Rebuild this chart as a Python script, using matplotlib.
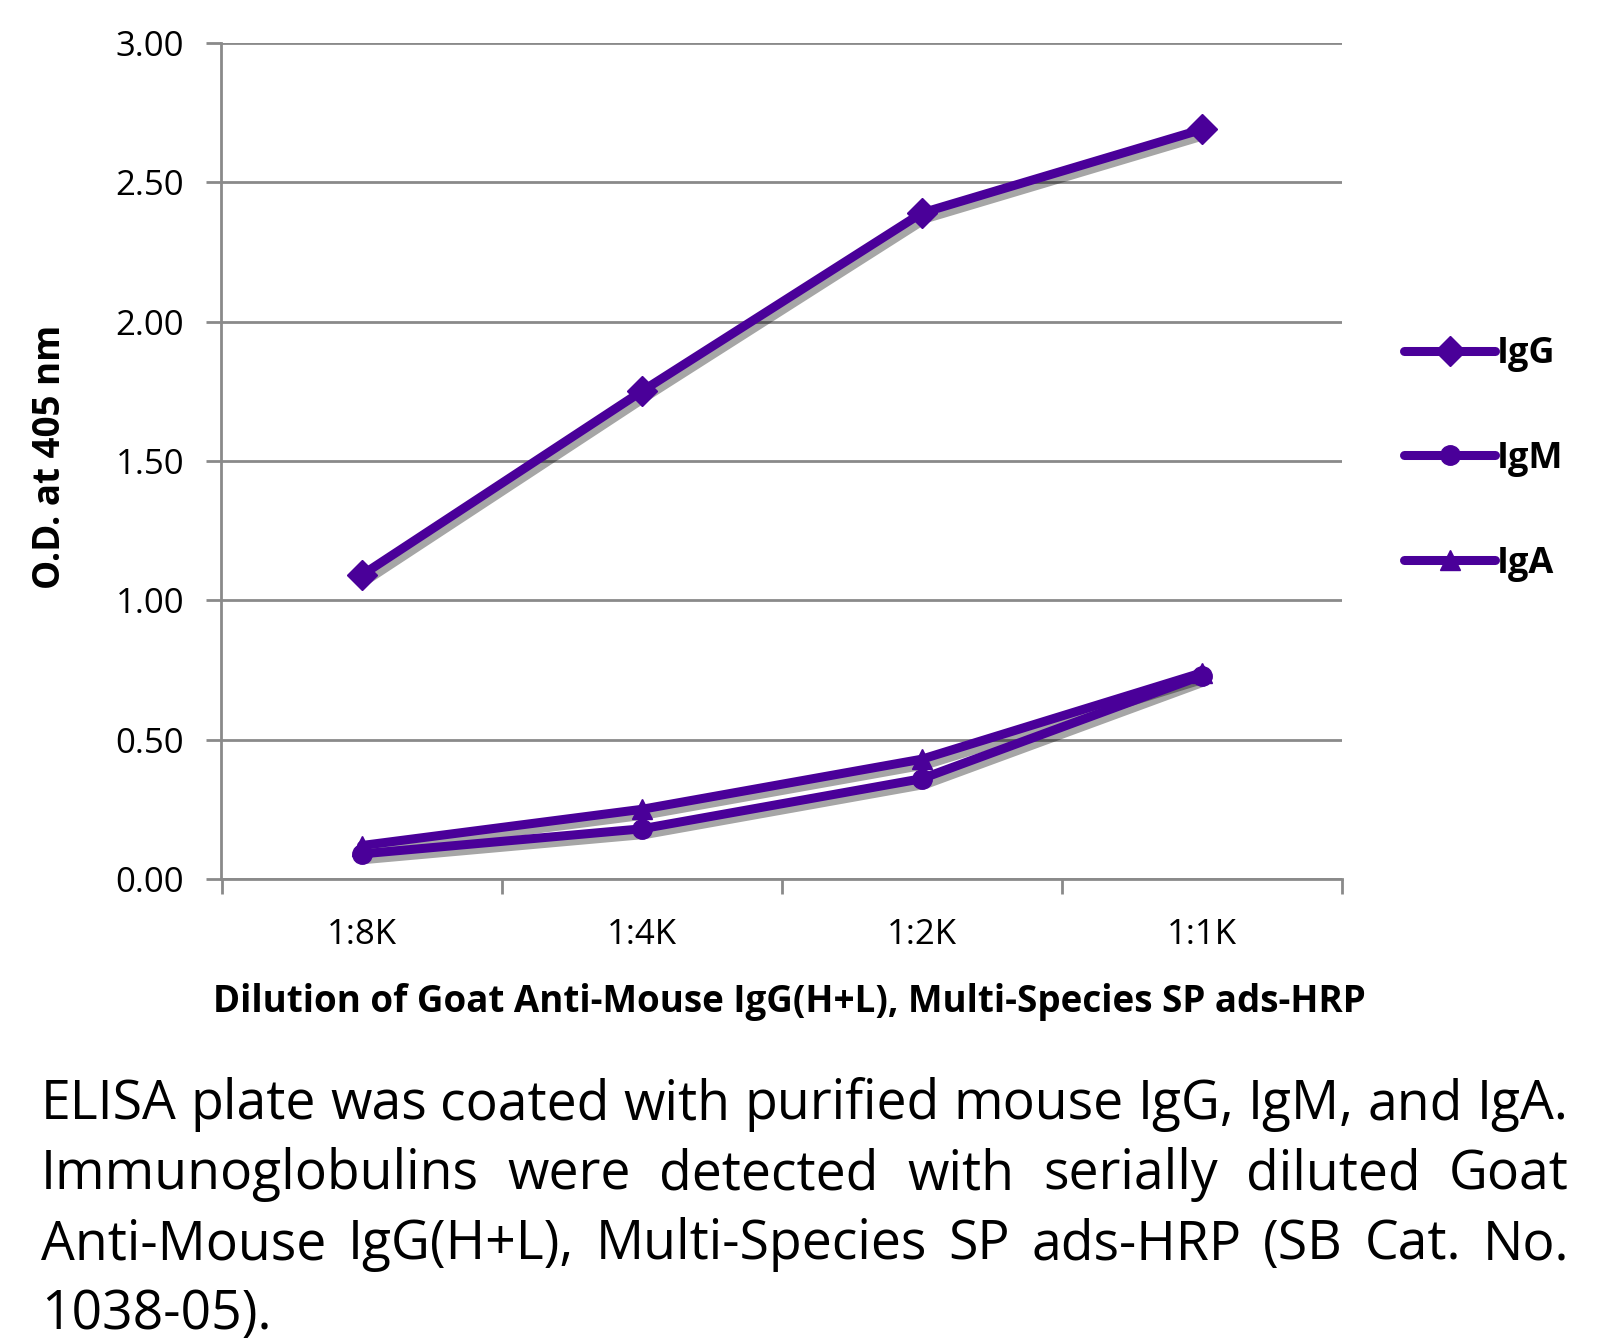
import matplotlib
matplotlib.use('Agg')
import matplotlib.pyplot as plt
import matplotlib.patheffects as pe

# dados
diluicoes = ['1:8K', '1:4K', '1:2K', '1:1K']
igg = [1.09, 1.75, 2.39, 2.69]
igm = [0.09, 0.18, 0.36, 0.73]
iga = [0.12, 0.25, 0.43, 0.74]
series = [('IgG', igg, 'D'), ('IgM', igm, 'o'), ('IgA', iga, '^')]
yticks = [0.0, 0.5, 1.0, 1.5, 2.0, 2.5, 3.0]

caption_lines = [
    'ELISA plate was coated with purified mouse IgG, IgM, and IgA.',
    'Immunoglobulins were detected with serially diluted Goat',
    'Anti-Mouse IgG(H+L), Multi-Species SP ads-HRP (SB Cat. No.',
    '1038-05).',
]

cor = '#4a0099'
cinza = '#8a8a8a'
plt.rcParams['font.family'] = 'Open Sans'

W, H = 1608, 1344
fig = plt.figure(figsize=(W / 100, H / 100), dpi=100)
ax = fig.add_axes([221.5 / W, 1 - 879 / H, (1342 - 221.5) / W, (879 - 43) / H])

x = list(range(len(diluicoes)))
sombra = [pe.SimpleLineShadow(offset=(3, -4), shadow_color='black', alpha=0.35, rho=0.3)]
handles = []
for nome, vals, mk in series:
    ms = 14 if mk == 'o' else 15
    # sombra só da linha
    ax.plot(x, vals, color=cor, lw=6.5, alpha=0, solid_capstyle='round',
            path_effects=sombra, zorder=2)
    ln, = ax.plot(x, vals, color=cor, lw=6.5, marker=mk, ms=ms, mec=cor,
                  solid_capstyle='round', solid_joinstyle='round',
                  zorder=3, label=nome)
    handles.append(ln)

ax.set_xlim(-0.5, len(diluicoes) - 0.5)
ax.set_ylim(0, 3.0)
ax.set_yticks(yticks)
ax.set_yticklabels([f'{v:.2f}' for v in yticks])
ax.set_xticks(x)
ax.set_xticklabels(diluicoes)
ax.set_xticks([i - 0.5 for i in range(len(diluicoes) + 1)], minor=True)
ax.tick_params(axis='x', which='major', length=0, pad=28, labelsize=25)
ax.tick_params(axis='x', which='minor', length=11, width=2, color=cinza)
ax.tick_params(axis='y', length=11, width=2, color=cinza, pad=16, labelsize=25)
ax.grid(axis='y', color=cinza, lw=2)
ax.set_axisbelow(True)
for s in ['top', 'right']:
    ax.spines[s].set_visible(False)
for s in ['left', 'bottom']:
    ax.spines[s].set_color(cinza)
    ax.spines[s].set_linewidth(2)

fig.text(50 / W, 1 - 457 / H, 'O.D. at 405 nm', rotation=90, ha='center', va='center',
         fontsize=26.5, fontweight='bold')
fig.text(789 / W, 1 - 1002 / H, 'Dilution of Goat Anti-Mouse IgG(H+L), Multi-Species SP ads-HRP',
         ha='center', va='center', fontsize=26.5, fontweight='bold')

leg = fig.legend(handles=handles, loc='upper left', bbox_to_anchor=(1390 / W, 1 - 322 / H),
                 frameon=False, prop={'size': 26, 'weight': 'bold'}, handlelength=2.5,
                 handletextpad=0.05, labelspacing=1.9, borderaxespad=0)

# legenda em texto justificado
fig.canvas.draw()
r = fig.canvas.get_renderer()
esq, dir_ = 41, 1569
alvo = dir_ - esq
tam = 38
t = fig.text(0, 0, caption_lines[0], fontsize=tam)
larg = t.get_window_extent(r).width
t.remove()
tam = tam * alvo / larg
base_y = [1119, 1189, 1259, 1329]
for i, linha in enumerate(caption_lines):
    y = 1 - base_y[i] / H
    palavras = linha.split(' ')
    if i == len(caption_lines) - 1:
        fig.text(esq / W, y, linha, fontsize=tam, va='baseline')
        continue
    objs = [fig.text(0, y, p, fontsize=tam, va='baseline') for p in palavras]
    ws = [o.get_window_extent(r).width for o in objs]
    gap = (alvo - sum(ws)) / (len(palavras) - 1)
    pos = esq
    for o, w in zip(objs, ws):
        o.set_x(pos / W)
        pos += w + gap

fig.savefig('out.png', dpi=100)
